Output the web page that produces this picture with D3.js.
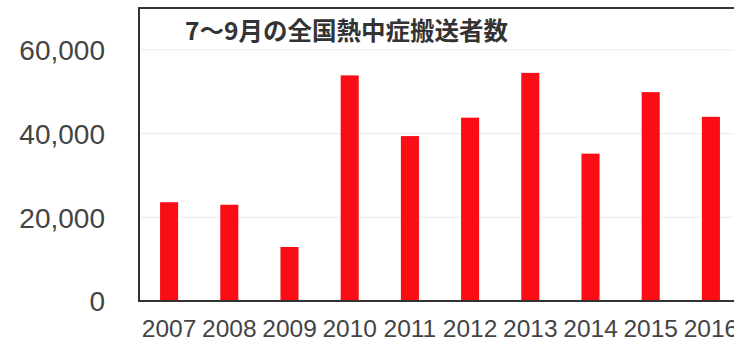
<!DOCTYPE html>
<html><head><meta charset="utf-8">
<script src="https://cdn.jsdelivr.net/npm/d3@7"></script>
<style>html,body{margin:0;padding:0;background:#fff;overflow:hidden}</style>
</head><body>
<svg id="c" width="734" height="341"></svg>
<script>
const years = ["2007","2008","2009","2010","2011","2012","2013","2014","2015","2016"];
const values = [23600, 23000, 12900, 53900, 39400, 43800, 54500, 35200, 49900, 44000];
const yTicks = [0, 20000, 40000, 60000];
const title = "7〜9月の全国熱中症搬送者数";

(function () {
const svg = d3.select("#c");
const mLeft = 139, mRight = 741, mTop = 8, mBottom = 301;

const x = d3.scaleBand().domain(years).range([mLeft, mRight]).paddingInner(0.7).paddingOuter(0.35);
const y = d3.scaleLinear().domain([0, 70000]).range([mBottom, mTop]);

// gridlines
svg.append("g").selectAll("line").data(yTicks.filter(d => d > 0)).join("line")
  .attr("x1", mLeft).attr("x2", 734).attr("y1", d => y(d)).attr("y2", d => y(d))
  .attr("stroke", "#ececec").attr("stroke-width", 1);

// bars
svg.append("g").selectAll("rect").data(values).join("rect")
  .attr("x", (d, i) => x(years[i])).attr("width", x.bandwidth())
  .attr("y", d => y(d)).attr("height", d => y(0) - y(d))
  .attr("fill", "#fa0d14");

// frame
svg.append("path")
  .attr("d", `M${734},${mTop}H${mLeft}V${mBottom}H${734}`)
  .attr("fill", "none").attr("stroke", "#333").attr("stroke-width", 2);

// y axis labels
const yAxis = d3.axisLeft(y).tickValues(yTicks).tickFormat(d3.format(",")).tickSize(0).tickPadding(0);
const gy = svg.append("g").attr("transform", "translate(105,0)").call(yAxis);
gy.select(".domain").remove();
gy.selectAll("text").attr("font-family", "'Liberation Sans', Arial, sans-serif")
  .attr("font-size", 28).attr("fill", "#444").attr("dy", "0.35em");

// x axis labels
const xAxis = d3.axisBottom(x).tickSize(0).tickPadding(0);
const gx = svg.append("g").attr("transform", `translate(0,${mBottom})`).call(xAxis);
gx.select(".domain").remove();
gx.selectAll("text").attr("font-family", "'Liberation Sans', Arial, sans-serif")
  .attr("font-size", 24.5).attr("fill", "#444").attr("y", 36).attr("dy", 0);

// title
svg.append("text").attr("x", 185).attr("y", 40).text(title)
  .attr("font-family", "'Noto Sans CJK JP', sans-serif").attr("font-weight", "bold")
  .attr("font-size", 24.5).attr("fill", "#333");
})();
</script>
</body></html>
